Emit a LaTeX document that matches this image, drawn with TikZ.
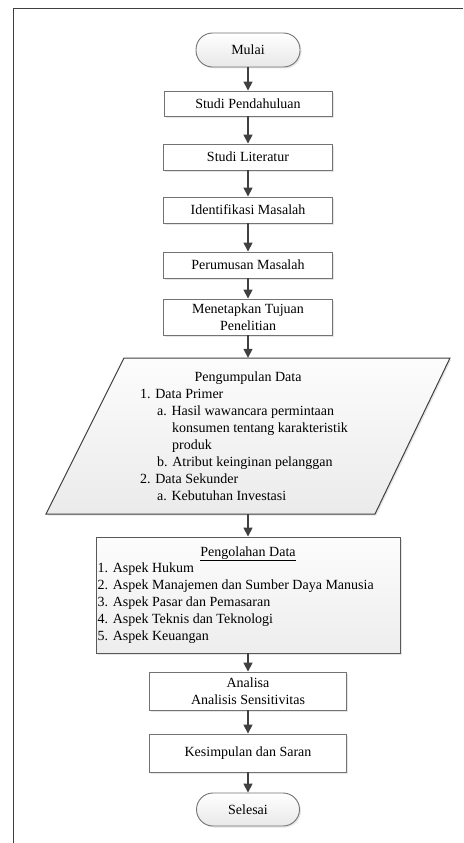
\documentclass[tikz,border=0pt]{standalone}
\usepackage{fontspec}
\setmainfont{Liberation Serif}
\usetikzlibrary{arrows.meta,shadows}
\begin{document}
\begin{tikzpicture}[x=1pt,y=-1pt,
  every node/.style={font=\fontsize{14}{17}\selectfont},
  shad/.style={drop shadow={opacity=0.2,shadow xshift=1.5pt,shadow yshift=-1.5pt}},
  box/.style={draw=black!55,line width=0.9pt,fill=white,inner sep=0pt,align=center,shad},
  term/.style={box,rounded corners=16.5pt,top color=white,bottom color=black!9},
  conn/.style={draw=black!75,line width=1.6pt,-{Triangle[width=9pt,length=9pt]}},
  txt/.style={anchor=base west,inner sep=0pt}
]
\useasboundingbox (0,0) rectangle (463,843);
\draw[black!75,line width=1.6pt] (463,8.5) -- (13.5,8.5) -- (13.5,843);

\node[term,minimum width=104pt,minimum height=34pt] (mulai) at (248,50) {Mulai};
\node[box,minimum width=168pt,minimum height=25pt] (sp) at (248,103.5) {Studi Pendahuluan};
\node[box,minimum width=169pt,minimum height=26pt] (sl) at (248,157) {Studi Literatur};
\node[box,minimum width=169pt,minimum height=26pt] (im) at (248,210) {Identifikasi Masalah};
\node[box,minimum width=169pt,minimum height=26pt] (pm) at (248,265) {Perumusan Masalah};
\node[box,minimum width=169pt,minimum height=36pt] (mt) at (248,317) {Menetapkan Tujuan\\Penelitian};

% data collection parallelogram
\draw[draw=black!75,line width=1pt,top color=black!1,bottom color=black!8,shad]
  (124,358) -- (450,358) -- (375,514) -- (46,514) -- cycle;
\node[inner sep=0pt,minimum width=250pt,minimum height=156pt] (pd) at (248,436) {};
\node[anchor=base,inner sep=0pt] (pd1) at (248,381) {Pengumpulan Data};
\node[txt] (pd2) at (140,398) {1. Data Primer};
\node[txt] (pd3) at (157,415) {a. Hasil wawancara permintaan};
\node[txt] (pd4) at (172,432) {konsumen tentang karakteristik};
\node[txt] (pd5) at (172,449) {produk};
\node[txt] (pd6) at (157,466) {b. Atribut keinginan pelanggan};
\node[txt] (pd7) at (140,483) {2. Data Sekunder};
\node[txt] (pd8) at (157,500) {a. Kebutuhan Investasi};

% data processing
\node[box,draw=black!65,top color=black!1,bottom color=black!7,minimum width=304pt,minimum height=116pt] (pg) at (248,595) {};
\node[anchor=base,inner sep=0pt] (pg0) at (248,556) {\underline{Pengolahan Data}};
\node[txt] (pg1) at (97.5,572.5) {1. Aspek Hukum};
\node[txt] (pg2) at (97.5,589.5) {2. Aspek Manajemen dan Sumber Daya Manusia};
\node[txt] (pg3) at (97.5,606.5) {3. Aspek Pasar dan Pemasaran};
\node[txt] (pg4) at (97.5,623.5) {4. Aspek Teknis dan Teknologi};
\node[txt] (pg5) at (97.5,640.5) {5. Aspek Keuangan};

\node[box,minimum width=197pt,minimum height=38pt] (an) at (248,691) {Analisa\\Analisis Sensitivitas};
\node[box,minimum width=197pt,minimum height=38pt] (ks) at (248,753) {Kesimpulan dan Saran};
\node[term,minimum width=103pt,minimum height=33pt] (sel) at (248,809.5) {Selesai};

\draw[conn] (mulai.south) -- (sp.north);
\draw[conn] (sp.south) -- (sl.north);
\draw[conn] (sl.south) -- (im.north);
\draw[conn] (im.south) -- (pm.north);
\draw[conn] (pm.south) -- (mt.north);
\draw[conn] (mt.south) -- (pd.north);
\draw[conn] (pd.south) -- (pg.north);
\draw[conn] (pg.south) -- (an.north);
\draw[conn] (an.south) -- (ks.north);
\draw[conn] (ks.south) -- (sel.north);
\end{tikzpicture}
\end{document}
